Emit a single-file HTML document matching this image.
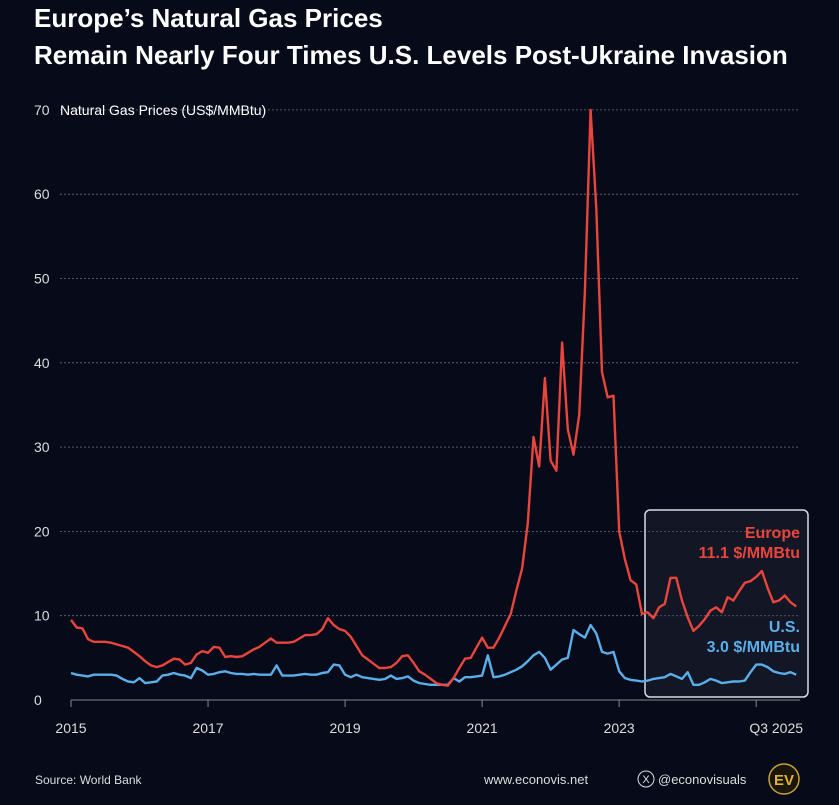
<!DOCTYPE html>
<html><head><meta charset="utf-8"><style>
body{margin:0;background:#070a18;width:839px;height:800px;overflow:hidden;font-family:"Liberation Sans",sans-serif;}
</style></head><body>
<svg width="839" height="800" xmlns="http://www.w3.org/2000/svg">
<rect width="839" height="800" fill="#070a18"/>
<text x="34" y="27" fill="#fff" font-size="26" font-weight="bold">Europe’s Natural Gas Prices</text>
<text x="34" y="64" fill="#fff" font-size="26" font-weight="bold">Remain Nearly Four Times U.S. Levels Post-Ukraine Invasion</text>
<g id="grid"></g>
<rect x="645" y="510" width="163" height="187" rx="5" fill="rgba(40,46,64,0.35)" stroke="#d8dbe2" stroke-width="1.5"/>
<g id="axes"></g>
<g id="series"></g>
<text x="60" y="115" fill="#fff" font-size="14">Natural Gas Prices (US$/MMBtu)</text>
<g font-weight="bold" font-size="16" text-anchor="end">
<text x="800" y="538" fill="#e8453c">Europe</text>
<text x="800" y="558" fill="#e8453c">11.1 $/MMBtu</text>
<text x="800" y="632" fill="#5aaeea">U.S.</text>
<text x="800" y="652" fill="#5aaeea">3.0 $/MMBtu</text>
</g>
<text x="35" y="784" fill="#ddd" font-size="12">Source: World Bank</text>
<text x="484" y="784" fill="#ddd" font-size="13">www.econovis.net</text>
<circle cx="646" cy="779" r="8" fill="none" stroke="#ddd" stroke-width="1"/>
<text x="646" y="783" fill="#ddd" font-size="11" text-anchor="middle">X</text>
<text x="658" y="784" fill="#ddd" font-size="13">@econovisuals</text>
<circle cx="784" cy="779" r="15" fill="#1a1608" stroke="#c9a03a" stroke-width="1.5"/>
<text x="784" y="785" fill="#e0b040" font-size="15" font-weight="bold" text-anchor="middle">EV</text>
</svg>
<script>
const yTicks=[0,10,20,30,40,50,60,70];
const xTickLabels=["2015","2017","2019","2021","2023","Q3 2025"];
const xTickMonths=[0,24,48,72,96,120];
const europe=[9.5,8.6,8.5,7.2,6.9,6.9,6.9,6.8,6.6,6.4,6.2,5.7,
5.2,4.6,4.1,3.9,4.1,4.5,4.9,4.8,4.2,4.4,5.4,5.8,
5.6,6.3,6.2,5.1,5.2,5.1,5.2,5.6,6.0,6.3,6.8,7.3,
6.8,6.8,6.8,6.9,7.3,7.7,7.7,7.8,8.4,9.7,8.9,8.4,
8.2,7.5,6.4,5.3,4.8,4.3,3.8,3.8,3.9,4.4,5.2,5.3,
4.4,3.4,3.0,2.5,2.0,1.8,1.7,2.6,3.8,4.9,5.0,6.2,
7.4,6.2,6.2,7.4,8.8,10.2,13,15.6,21,31.2,27.7,38.2,
28.4,27.2,42.4,32.1,29.1,33.8,48.5,70,58.3,38.9,35.9,36.1,
20,16.7,14.2,13.7,10.2,10.4,9.7,11,11.4,14.5,14.5,11.8,
9.8,8.2,8.8,9.6,10.6,11,10.4,12.2,11.8,12.9,13.9,14.1,
14.6,15.3,13.3,11.6,11.8,12.4,11.6,11.1];
const us=[3.2,3.0,2.9,2.8,3.0,3.0,3.0,3.0,2.9,2.5,2.2,2.1,
2.6,2.0,2.1,2.2,2.9,3.0,3.2,3.0,2.9,2.6,3.8,3.5,
3.0,3.1,3.3,3.4,3.2,3.1,3.1,3.0,3.1,3.0,3.0,3.0,
4.1,2.9,2.9,2.9,3.0,3.1,3.0,3.0,3.2,3.3,4.2,4.1,
3.0,2.7,3.0,2.7,2.6,2.5,2.4,2.5,2.9,2.5,2.6,2.8,
2.3,2.0,1.9,1.8,1.8,1.8,1.8,2.6,2.2,2.7,2.7,2.8,
2.9,5.3,2.7,2.8,3.0,3.3,3.6,4.0,4.6,5.3,5.7,5.0,
3.6,4.2,4.8,5.0,8.3,7.8,7.4,8.9,7.9,5.7,5.5,5.7,
3.4,2.6,2.4,2.3,2.2,2.3,2.5,2.6,2.7,3.1,2.8,2.5,
3.3,1.8,1.8,2.1,2.5,2.3,2.0,2.1,2.2,2.2,2.3,3.3,
4.2,4.2,3.9,3.4,3.2,3.1,3.3,3.0];
const NS="http://www.w3.org/2000/svg";
const xS=m=>71+m*5.71;
const yS=v=>700-v*8.43;
const grid=document.getElementById('grid'),axes=document.getElementById('axes'),series=document.getElementById('series');
function mk(tag,attrs,parent){const e=document.createElementNS(NS,tag);for(const k in attrs)e.setAttribute(k,attrs[k]);parent.appendChild(e);return e;}
yTicks.forEach(v=>{
  if(v>0){const l=mk('line',{x1:60,x2:800,y1:yS(v),y2:yS(v),stroke:'#6a6f80','stroke-width':0.8,'stroke-dasharray':'2,2'},grid);
  
  }
  const t=mk('text',{x:34,y:yS(v)+5,fill:'#ddd','font-size':14},axes);t.textContent=v;
  
  
});
const base=mk('line',{x1:71,x2:800,y1:700,y2:700,stroke:'#888','stroke-width':1},axes);


xTickMonths.forEach((m,i)=>{
  const tk=mk('line',{x1:xS(m),x2:xS(m),y1:700,y2:707,stroke:'#888'},axes);
  
  
  const t=mk('text',{x:xS(m)+(i==5?20:0),y:733,fill:'#ddd','font-size':14,'text-anchor':'middle'},axes);t.textContent=xTickLabels[i];
  
  
});
function line(data,color,name){
  const d=data.map((v,i)=>(i?'L':'M')+xS(i).toFixed(1)+','+yS(v).toFixed(1)).join('');
  const p=mk('path',{d:d,fill:'none',stroke:color,'stroke-width':2.4,'stroke-linejoin':'round'},series);
  
  
}
line(us,'#5aaeea','us-price-line');
line(europe,'#e8453c','europe-price-line');
</script>
</body></html>
